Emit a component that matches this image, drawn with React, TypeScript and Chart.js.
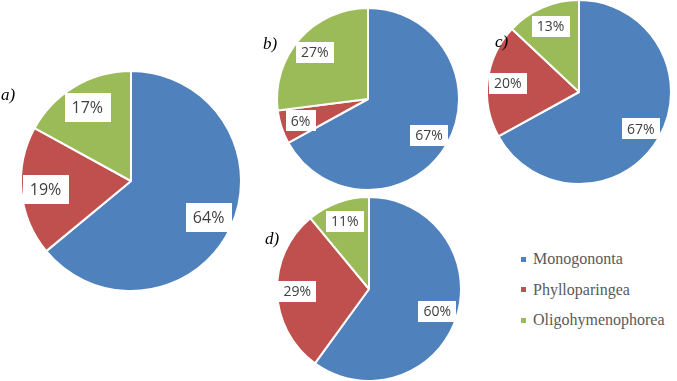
import React, { useEffect, useRef } from "react";
import { Chart, registerables } from "chart.js";
Chart.register(...registerables);

const categories = ["Monogononta", "Phylloparingea", "Oligohymenophorea"];
const seriesA = [64, 19, 17];
const seriesB = [67, 6, 27];
const seriesC = [67, 20, 13];
const seriesD = [60, 29, 11];
const panelNames = ["a)", "b)", "c)", "d)"];
const colors = ["#4F81BD", "#C0504D", "#9BBB59"];
const SERIF = '"Liberation Serif", "Times New Roman", serif';

const boxLabels = {
  id: "boxLabels",
  afterDatasetsDraw(chart: any, _args: any, opts: any) {
    const ctx = chart.ctx;
    const meta = chart.getDatasetMeta(0);
    const data = chart.data.datasets[0].data;
    meta.data.forEach((arc: any, i: number) => {
      const { x, y, startAngle, endAngle, outerRadius } = arc.getProps(
        ["x", "y", "startAngle", "endAngle", "outerRadius"],
        true
      );
      const mid = (startAngle + endAngle) / 2;
      const rr = outerRadius * opts.dist;
      const lx = x + Math.cos(mid) * rr;
      const ly = y + Math.sin(mid) * rr;
      ctx.save();
      ctx.font = `${opts.size}px "Open Sans", sans-serif`;
      const text = data[i] + "%";
      const w = ctx.measureText(text).width + opts.padX * 2;
      const h = opts.boxH;
      ctx.fillStyle = "#ffffff";
      ctx.fillRect(Math.round(lx - w / 2), Math.round(ly - h / 2), Math.round(w), h);
      ctx.fillStyle = "#404040";
      ctx.textAlign = "center";
      ctx.textBaseline = "middle";
      ctx.fillText(text, lx, ly + 1);
      ctx.restore();
    });
  },
};

type PieProps = {
  values: number[];
  cx: number;
  cy: number;
  r: number;
  size: number;
  padX: number;
  boxH: number;
};

function Pie({ values, cx, cy, r, size, padX, boxH }: PieProps) {
  const ref = useRef<HTMLCanvasElement>(null);
  const dim = Math.ceil(2 * r + 12);
  useEffect(() => {
    if (!ref.current) return;
    const chart = new Chart(ref.current, {
      type: "pie",
      data: {
        labels: categories,
        datasets: [
          {
            data: values,
            backgroundColor: colors,
            borderColor: "#ffffff",
            borderWidth: 2,
            hoverOffset: 0,
          },
        ],
      },
      options: {
        responsive: false,
        maintainAspectRatio: false,
        animation: false,
        radius: r,
        layout: { padding: 0 },
        events: [],
        plugins: {
          legend: { display: false },
          tooltip: { enabled: false },
          boxLabels: { dist: 0.78, size, padX, boxH },
        } as any,
      },
      plugins: [boxLabels],
    });
    return () => chart.destroy();
  }, []);
  return (
    <canvas
      ref={ref}
      width={dim}
      height={dim}
      style={{
        position: "absolute",
        left: cx - dim / 2,
        top: cy - dim / 2,
        width: dim,
        height: dim,
      }}
    />
  );
}

const letterStyle = (left: number, top: number): React.CSSProperties => ({
  position: "absolute",
  left,
  top,
  fontFamily: SERIF,
  fontStyle: "italic",
  fontSize: 17,
  lineHeight: "17px",
  color: "#000",
});

export default function App() {
  return (
    <div
      style={{
        position: "fixed",
        left: 0,
        top: 0,
        width: 677,
        height: 381,
        background: "#ffffff",
        overflow: "hidden",
      }}
    >
      <Pie values={seriesA} cx={131} cy={181} r={110} size={16} padX={7} boxH={29} />
      <Pie values={seriesB} cx={368} cy={99} r={91} size={14} padX={5} boxH={21} />
      <Pie values={seriesC} cx={579} cy={92} r={92} size={14} padX={5} boxH={21} />
      <Pie values={seriesD} cx={369} cy={289} r={92} size={14} padX={5} boxH={21} />
      <div style={letterStyle(1, 86)}>{panelNames[0]}</div>
      <div style={letterStyle(263, 35)}>{panelNames[1]}</div>
      <div style={letterStyle(495, 33)}>{panelNames[2]}</div>
      <div style={letterStyle(265, 230)}>{panelNames[3]}</div>
      <div style={{ position: "absolute", left: 521, top: 244 }}>
        {categories.map((c, i) => (
          <div
            key={c}
            style={{
              display: "flex",
              alignItems: "center",
              height: 30.5,
              fontFamily: SERIF,
              fontSize: 16,
              color: "#595959",
            }}
          >
            <span
              style={{
                display: "inline-block",
                width: 5,
                height: 5,
                background: colors[i],
                marginRight: 7,
              }}
            />
            {c}
          </div>
        ))}
      </div>
    </div>
  );
}
